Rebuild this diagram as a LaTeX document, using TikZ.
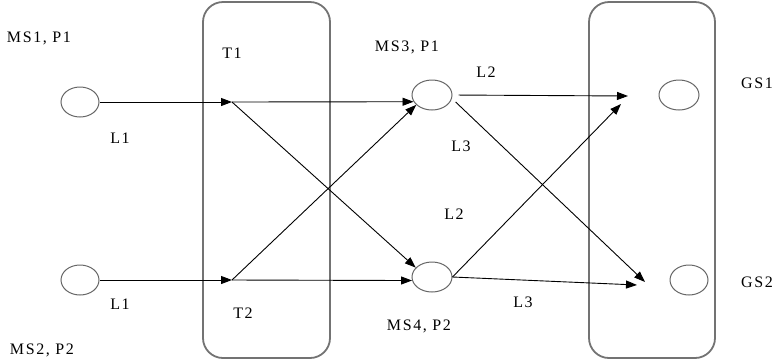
\documentclass[tikz,border=0pt]{standalone}
\usepackage{fontspec}
\newfontfamily\lblfont[LetterSpace=10]{Liberation Serif}
\usetikzlibrary{shapes.geometric,arrows.meta}
\tikzset{
  lbl/.style={inner sep=0pt, font=\lblfont\fontsize{16}{16}\selectfont},
  stn/.style={draw=black!60, line width=1pt, ellipse, inner sep=0pt, minimum width=38pt, minimum height=30pt},
  grp/.style={draw=black!55, line width=1.8pt, rounded corners=20pt, inner sep=0pt},
  link/.style={draw=black, line width=0.9pt, -{Triangle[length=11pt,width=8pt]}}
}
\begin{document}
\begin{tikzpicture}[x=1pt,y=-1pt]
\useasboundingbox (0,0) rectangle (774,360);
% group boxes
\node[grp, minimum width=127pt, minimum height=356pt] (box1) at (266.5,180) {};
\node[grp, minimum width=126pt, minimum height=356pt] (box2) at (652,180) {};
% stations
\node[stn] (ms1) at (80,102) {};
\node[stn] (ms2) at (80,280) {};
\node[stn, minimum width=40pt] (ms3) at (432,95) {};
\node[stn, minimum width=40pt] (ms4) at (432,277) {};
\node[stn, minimum width=40pt] (gs1) at (679,95) {};
\node[stn, minimum width=38pt] (gs2) at (689,280) {};
% junction points
\coordinate (t1) at (232,102);
\coordinate (t2) at (232,280);
\coordinate (g1a) at (628,96);
\coordinate (g1b) at (621,104);
\coordinate (g2a) at (645,282);
\coordinate (g2b) at (637,285);
% connectors
\draw[link] (ms1) -- (t1);
\draw[link] (t1) -- (ms3.200);
\draw[link] (t1) -- (ms4.150);
\draw[link] (ms2) -- (t2);
\draw[link] (t2) -- (ms3.212);
\draw[link] (t2) -- (ms4.190);
\draw[link, shorten <=6pt] (ms3.east) -- (g1a);
\draw[link, shorten <=5pt] (ms3.-10) -- (g2a);
\draw[link] (ms4.east) -- (g1b);
\draw[link] (ms4.east) -- (g2b);
% labels
\node[lbl] (lms1) at (39,38) {MS1, P1};
\node[lbl] (lt1) at (232,53) {T1};
\node[lbl] (ll1a) at (120,138) {L1};
\node[lbl] (lms3) at (407,47) {MS3, P1};
\node[lbl] (ll2a) at (486,72) {L2};
\node[lbl] (ll3a) at (461,146) {L3};
\node[lbl] (lgs1) at (757,83) {GS1};
\node[lbl] (ll2b) at (454,214) {L2};
\node[lbl] (ll3b) at (523,302) {L3};
\node[lbl] (lms4) at (419,326) {MS4, P2};
\node[lbl] (lgs2) at (757,282) {GS2};
\node[lbl] (ll1b) at (120,304) {L1};
\node[lbl] (lt2) at (243,313) {T2};
\node[lbl] (lms2) at (42,350) {MS2, P2};
\end{tikzpicture}
\end{document}
